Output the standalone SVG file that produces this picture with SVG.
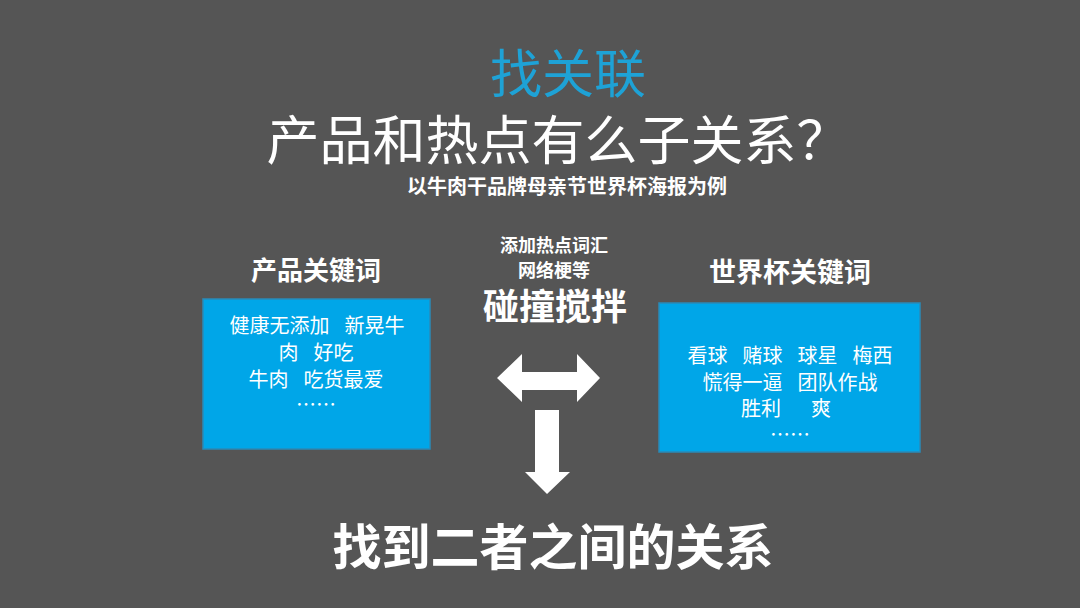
<svg xmlns="http://www.w3.org/2000/svg" width="1080" height="608" viewBox="0 0 1080 608">
<style>
text{font-family:"Noto Sans CJK SC","Noto Sans CJK JP",sans-serif;fill:#fff;text-anchor:middle;dominant-baseline:central}
.b{font-weight:bold}
.box{fill:#00a6e8;stroke:#2a8ab8;stroke-width:1.5}
.bt{font-size:20px}
.arr{fill:#fff}
</style>
<rect width="1080" height="608" fill="#555555"/>
<g id="title">
<text x="568" y="70" font-size="52" style="fill:#1ea2d6">找关联</text>
<text x="558" y="137" font-size="53">产品和热点有么子关系？</text>
<text x="567" y="185" font-size="20" class="b">以牛肉干品牌母亲节世界杯海报为例</text>
</g>
<g id="product">
<text x="316" y="268" font-size="26" class="b">产品关键词</text>
<rect class="box" x="203" y="299" width="227" height="150"/>
<text class="bt" x="317" y="324">健康无添加&#8194;&#8197;新晃牛</text>
<text class="bt" x="316" y="351">肉&#8194;&#8197;好吃</text>
<text class="bt" x="316" y="378">牛肉&#8194;&#8197;吃货最爱</text>
<text class="bt" x="316" y="403">……</text>
</g>
<g id="middle">
<text x="554" y="244" font-size="18" class="b">添加热点词汇</text>
<text x="554" y="269" font-size="18" class="b">网络梗等</text>
<text x="555" y="304" font-size="36" class="b">碰撞搅拌</text>
</g>
<g id="worldcup">
<text x="790" y="270" font-size="27" class="b">世界杯关键词</text>
<rect class="box" x="659" y="303" width="261" height="149"/>
<text class="bt" x="790" y="354">看球&#8194;&#8197;赌球&#8194;&#8197;球星&#8194;&#8197;梅西</text>
<text class="bt" x="790" y="381">慌得一逼&#8194;&#8197;团队作战</text>
<text class="bt" x="786" y="407">胜利&#12288;&#8194;爽</text>
<text class="bt" x="790" y="433">……</text>
</g>
<g id="connectors">
<polygon class="arr" points="497,378 522,354 522,372 577,372 577,354 600,378 577,402 577,390 522,390 522,402"/>
<polygon class="arr" points="535,410 559,410 559,472 570,472 547,494 525,472 535,472"/>
</g>
<g id="conclusion">
<text x="553" y="543" font-size="49" class="b">找到二者之间的关系</text>
</g>
</svg>
